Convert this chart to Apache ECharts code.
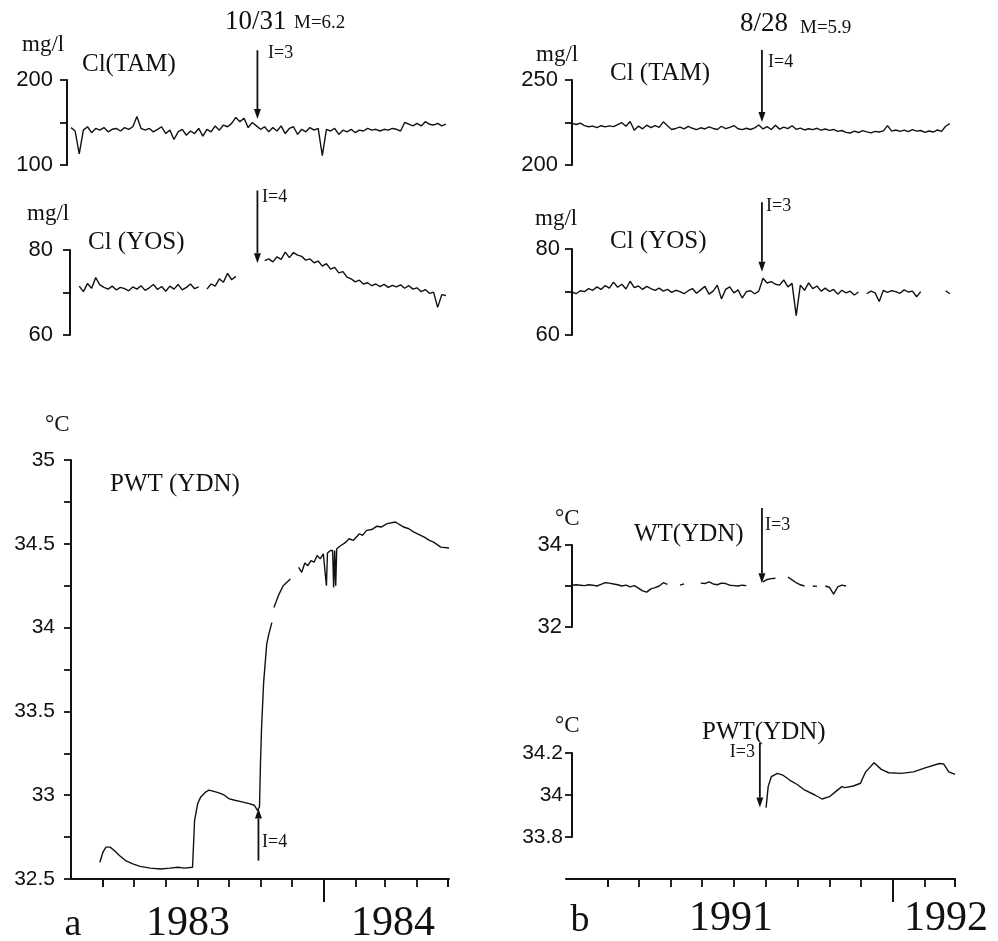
<!DOCTYPE html>
<html><head><meta charset="utf-8">
<script src="https://cdn.jsdelivr.net/npm/echarts@6/dist/echarts.min.js"></script>
<style>html,body{margin:0;padding:0;background:#fff}#c{width:998px;height:941px}</style>
</head><body><div id="c"></div>
<script>
const DAY = 86400000;
const STEP = 4; // sampling step of the digitised records, days
function ts(s){const p=s.split('-').map(Number);return new Date(p[0],p[1]-1,p[2]).getTime();}

// ---- axis ranges and ticks ----
const rangeA = ['1983-05-01','1984-05-02'];
const rangeB = ['1991-02-26','1992-03-01'];
const rangeBaxis = ['1991-02-20','1992-03-01'];
const monthTicksA = ['1983-06-01','1983-07-01','1983-08-01','1983-09-01','1983-10-01','1983-11-01','1983-12-01','1984-01-01','1984-02-01','1984-03-01','1984-04-01','1984-05-01'];
const yearTickA = ['1984-01-01'];
const monthTicksB = ['1991-04-01','1991-05-01','1991-06-01','1991-07-01','1991-08-01','1991-09-01','1991-10-01','1991-11-01','1991-12-01','1992-01-01','1992-02-01','1992-03-01'];
const yearTickB = ['1992-01-01'];
const yearLabelsA = ['1983','1984'];
const yearLabelsB = ['1991','1992'];

// y tick labels
const tamA_labels = [100,200];
const yosA_labels = [60,80];
const pwtA_labels = [32.5,33,33.5,34,34.5,35];
const tamB_labels = [200,250];
const yosB_labels = [60,80];
const wtB_labels = [32,34];
const pwtB_labels = [33.8,34,34.2];

// ---- (a) 1983-84 records, sampled every STEP days from start ----
const tamA_start = '1983-05-01';
const tamA = [144,140,113,141,145,138,143,141,144,139,
  142,143,140,144,142,145,157,143,141,143,
  139,142,145,137,141,130,139,142,135,140,
  137,143,134,142,139,146,141,147,145,149,
  156,151,155,144,150,146,142,145,139,144,
  140,146,137,143,145,136,142,139,144,141,
  143,111,142,140,143,136,141,139,142,138,
  141,140,143,141,142,140,142,141,143,142,
  140,150,148,146,149,146,151,148,147,149,
  146,148];
const yosA_start = '1983-05-01';
const yosA = [null,null,
  71.5,70.2,72.1,71,73.5,71.8,71.2,70.8,71.5,70.6,71.2,70.9,70.4,71.3,70.8,71.6,70.5,71.1,71.9,70.7,71.4,
  70.3,71.5,70.8,71.9,70.6,71.2,72,70.9,71.3,
  null,
  70.8,72,71.5,73.2,72.4,74.5,73,73.8,
  null,null,null,null,null,null,
  77.5,77.9,77.2,78.4,77.8,79.5,78.2,79.4,78.8,78.5,77.6,77.9,77,77.4,76.2,76.8,75.5,75.9,74.6,74.9,73.6,
  73.2,72.5,72.9,72,72.3,71.6,72,71.4,71.9,71.2,71.7,71.3,71.8,71,71.6,70.8,71.1,70.2,70.7,69.8,70.1,66.5,69.5,69.3];
const pwtA = [
 ['1983-05-29',32.60],['1983-06-01',32.66],['1983-06-04',32.69],['1983-06-08',32.69],['1983-06-12',32.67],
 ['1983-06-17',32.64],['1983-06-23',32.61],['1983-06-30',32.59],['1983-07-07',32.575],['1983-07-17',32.565],
 ['1983-07-27',32.56],['1983-08-05',32.565],['1983-08-13',32.57],['1983-08-19',32.565],['1983-08-27',32.57],
 ['1983-08-28',32.58],['1983-08-29',32.85],['1983-09-01',32.95],['1983-09-04',32.99],['1983-09-09',33.02],
 ['1983-09-12',33.03],['1983-09-21',33.015],['1983-09-27',33.0],['1983-10-01',32.98],['1983-10-07',32.97],
 ['1983-10-14',32.96],['1983-10-21',32.95],['1983-10-26',32.94],['1983-10-29',32.91],['1983-10-31',32.93],
 ['1983-11-01',33.2],['1983-11-02',33.4],['1983-11-04',33.67],['1983-11-07',33.9],['1983-11-09',33.96],
 ['1983-11-12',34.03],['1983-11-13',null],['1983-11-14',34.12],['1983-11-19',34.2],['1983-11-23',34.25],
 ['1983-11-30',34.29],['1983-12-03',null],['1983-12-08',34.36],['1983-12-11',34.33],['1983-12-14',34.385],
 ['1983-12-17',34.37],['1983-12-20',34.40],['1983-12-23',34.39],['1983-12-26',34.43],['1983-12-29',34.41],
 ['1984-01-01',34.44],['1984-01-04',34.25],['1984-01-05',34.445],['1984-01-08',34.46],['1984-01-10',34.46],
 ['1984-01-11',34.24],['1984-01-12',34.46],['1984-01-13',34.25],['1984-01-14',34.47],['1984-01-18',34.49],
 ['1984-01-22',34.505],['1984-01-26',34.53],['1984-01-30',34.52],['1984-02-05',34.56],['1984-02-08',34.55],
 ['1984-02-12',34.58],['1984-02-17',34.585],['1984-02-22',34.605],['1984-02-26',34.60],['1984-03-03',34.62],
 ['1984-03-11',34.63],['1984-03-19',34.60],['1984-03-24',34.59],['1984-03-29',34.57],['1984-04-03',34.555],
 ['1984-04-08',34.54],['1984-04-13',34.52],['1984-04-17',34.51],['1984-04-24',34.48],['1984-05-02',34.475]];

// ---- (b) 1991-92 records ----
const tamB_start = '1991-02-26';
const tamB = [224.5,223.8,224.6,223.2,222.5,222.9,222,223.1,
  222.4,223,222.6,223.8,224.9,222.8,225.6,220.4,
  222.9,221.3,223.4,222,223.2,222.1,225.4,223.1,220.9,
  221.5,222.3,221.2,222.7,221.6,220.8,221.9,221.2,222.4,221.5,220.9,222.8,221.4,222.1,223.2,221.3,
  220.8,221.6,220.9,221.8,223.5,221.2,
  222.6,220.9,223.4,221.1,222.3,221.4,223.1,221,221.7,220.6,221.3,220.8,221.6,220.5,221.2,220.4,220.9,
  219.8,220.3,219.2,218.8,219.9,219.1,220.2,219.5,218.9,219.8,219.4,220.1,
  223.2,219.9,220.6,219.8,220.5,219.6,220.8,219.9,220.3,219.2,220,219.4,
  220.6,219.8,222.8,224.3];
const yosB_start = '1991-02-26';
const yosB = [70,69.6,70.3,70.1,70.8,70.4,71.2,70.6,
  71.5,70.9,72.3,71.1,71.8,70.7,72.5,71,71.4,70.6,71.3,70.8,
  70.4,70.9,70.2,70.6,69.9,70.4,70.1,69.6,70.3,70.8,69.7,70.5,71.3,69.5,70.2,71.6,
  68.4,70.6,71.2,69.8,70.5,68.6,70.1,70.3,69.6,70.2,
  73.2,72.1,72.4,71.8,71.6,72.8,71.2,72,64.5,71.6,70.4,72.1,70.8,71.4,70.2,70.9,70.1,70.6,69.5,70.4,69.8,70.2,69.3,70,
  null,
  69.6,70.2,69.8,67.8,70.4,69.9,70.3,70.1,69.7,70.5,70,70.2,68.9,70.1,
  null,null,null,null,null,
  70.3,69.6];
const wtB_start = '1991-02-26';
const wtB = [33.02,33.03,33.02,33.01,33.03,33.02,33.0,33.04,33.08,33.07,33.05,33.03,33.0,33.02,32.98,33.01,32.95,32.88,32.85,32.93,32.96,33.0,33.08,33.04,
  null,null,33.02,33.05,null,null,null,
  33.07,33.06,33.1,33.05,33.03,33.07,33.06,33.02,33.01,33.0,33.02,33.01,
  null,null,null,
  33.1,33.16,33.18,33.19,null,null,
  33.22,33.15,33.08,33.03,33.0,null,33.0,32.99,null,
  33.0,32.97,32.8,32.98,33.02,33.0];
const pwtB = [
 ['1991-09-01',33.94],['1991-09-02',33.99],['1991-09-03',34.04],['1991-09-06',34.087],['1991-09-12',34.103],
 ['1991-09-17',34.095],['1991-09-24',34.07],['1991-10-01',34.05],['1991-10-08',34.024],['1991-10-18',34.0],
 ['1991-10-25',33.981],['1991-11-01',33.992],['1991-11-07',34.016],['1991-11-13',34.04],['1991-11-16',34.035],
 ['1991-11-24',34.043],['1991-12-01',34.056],['1991-12-03',34.08],['1991-12-06',34.11],['1991-12-14',34.154],
 ['1991-12-21',34.122],['1991-12-28',34.106],['1992-01-09',34.103],['1992-01-21',34.11],['1992-02-02',34.13],
 ['1992-02-15',34.15],['1992-02-19',34.148],['1992-02-24',34.11],['1992-03-01',34.098]];

// ---- event arrows: [date, from value, to value] ----
const arrowTamA = ['1983-10-29', 235, 154];
const arrowYosA = ['1983-10-29', 94, 76.9];
const arrowPwtA = ['1983-10-30', 32.61, 32.92];
const arrowTamB = ['1991-08-28', 267.6, 225.3];
const arrowYosB = ['1991-08-28', 90.9, 74.7];
const arrowWtB  = ['1991-08-28', 34.9, 33.07];
const arrowPwtB = ['1991-08-26', 34.248, 33.94];

// ---------------------------------------------------------
const INK = '#111';
const SERIF = 'Liberation Serif';
const SANS = 'Liberation Sans';
const reg = (start, vals) => vals.map((v,i)=>[ts(start)+i*STEP*DAY, v]);
const pairs = arr => arr.map(p=>[ts(p[0]), p[1]]);

const grids = [
  {left:71,  top:80,  width:378, height:85},   // 0 Cl TAM a
  {left:71,  top:250, width:378, height:85},   // 1 Cl YOS a
  {left:71,  top:460, width:378, height:419},  // 2 PWT a
  {left:572, top:80,  width:383, height:85},   // 3 Cl TAM b
  {left:572, top:249, width:383, height:86},   // 4 Cl YOS b
  {left:572, top:545, width:383, height:82},   // 5 WT b
  {left:572, top:753, width:383, height:84},   // 6 PWT b
  {left:566, top:860, width:389, height:19}    // 7 time axis b
].map(g=>Object.assign({containLabel:false, outerBoundsMode:'none'}, g));

function hiddenX(gi, r){return {gridIndex:gi, type:'time', min:ts(r[0]), max:ts(r[1]), show:false};}
function shownX(gi, r, ticks, len, showLine){
  return {gridIndex:gi, type:'time', min:ts(r[0]), max:ts(r[1]), position:'bottom',
    axisLine:{show:showLine, onZero:false, lineStyle:{color:INK, width:2}},
    axisTick:{show:true, inside:false, customValues:ticks.map(ts), length:len, lineStyle:{color:INK, width:1.8}},
    axisLabel:{show:false}, splitLine:{show:false}};
}
function yAx(gi, min, max, interval, labels, margin, fontSize, offset){
  return {gridIndex:gi, type:'value', min, max, interval, offset:offset||0, position:'left',
    axisLine:{show:true, onZero:false, lineStyle:{color:INK, width:2}},
    axisTick:{show:true, inside:false, length:7, lineStyle:{color:INK, width:1.8}},
    splitLine:{show:false},
    axisLabel:{show:true, margin, color:INK, fontFamily:SANS, fontSize,
      showMinLabel:true, showMaxLabel:true,
      formatter: v => labels.some(l=>Math.abs(l-v)<1e-6) ? String(+(+v).toFixed(2)) : ''}};
}

const xAxes = [
  hiddenX(0, rangeA), hiddenX(1, rangeA),
  shownX(2, rangeA, monthTicksA, 8, true),
  hiddenX(3, rangeB), hiddenX(4, rangeB), hiddenX(5, rangeB), hiddenX(6, rangeB),
  shownX(7, rangeBaxis, monthTicksB, 8, true),
  shownX(2, rangeA, yearTickA, 23, false),
  shownX(7, rangeBaxis, yearTickB, 23, false)
];
const yAxes = [
  yAx(0, 100, 200, 50, tamA_labels, 14, 22, 4),
  yAx(1, 60, 80, 10, yosA_labels, 17, 22, 1),
  yAx(2, 32.5, 35, 0.25, pwtA_labels, 16, 21, 0),
  yAx(3, 200, 250, 25, tamB_labels, 14, 22, 0),
  yAx(4, 60, 80, 10, yosB_labels, 12, 22, 0),
  yAx(5, 32, 34, 1, wtB_labels, 10, 22, 0),
  yAx(6, 33.8, 34.2, 0.2, pwtB_labels, 9, 21, 0),
  {gridIndex:7, type:'value', show:false, min:0, max:1}
];

function line(gi, data){
  return {type:'line', xAxisIndex:gi, yAxisIndex:gi, data, symbol:'none', showSymbol:false,
    connectNulls:false, silent:true, animation:false, clip:true,
    lineStyle:{color:INK, width:1.4}};
}
function arrow(gi, a){
  return {type:'custom', xAxisIndex:gi, yAxisIndex:gi, clip:false, silent:true, animation:false,
    data:[[ts(a[0]), a[1], a[2]]],
    renderItem:(params, api)=>{
      const p0 = api.coord([api.value(0), api.value(1)]);
      const p1 = api.coord([api.value(0), api.value(2)]);
      const dir = p1[1] > p0[1] ? 1 : -1;
      const h = 10, w = 3.5;
      return {type:'group', children:[
        {type:'line', shape:{x1:p0[0], y1:p0[1], x2:p1[0], y2:p1[1]-dir*h}, style:{stroke:INK, lineWidth:1.8}},
        {type:'polygon', shape:{points:[[p1[0],p1[1]],[p1[0]-w,p1[1]-dir*h],[p1[0]+w,p1[1]-dir*h]]}, style:{fill:INK}}
      ]};
    }};
}

function T(text, x, y, size, align, family){
  return {type:'text', left:undefined, x, y, silent:true,
    style:{text, fill:INK, font:`${size}px "${family||SERIF}"`, align:align||'left', verticalAlign:'middle'}};
}

const option = {
  backgroundColor:'#fff',
  animation:false,
  grid:grids,
  xAxis:xAxes,
  yAxis:yAxes,
  series:[
    line(0, reg(tamA_start, tamA)),
    line(1, reg(yosA_start, yosA)),
    line(2, pairs(pwtA)),
    line(3, reg(tamB_start, tamB)),
    line(4, reg(yosB_start, yosB)),
    line(5, reg(wtB_start, wtB)),
    line(6, pairs(pwtB)),
    arrow(0, arrowTamA), arrow(1, arrowYosA), arrow(2, arrowPwtA),
    arrow(3, arrowTamB), arrow(4, arrowYosB), arrow(5, arrowWtB), arrow(6, arrowPwtB)
  ],
  graphic:[
    T('10/31', 225, 22, 27), T('M=6.2', 294, 23, 19), T('I=3', 268, 53, 18),
    T('mg/l', 22, 45, 23), T('Cl(TAM)', 82, 64, 25),
    T('mg/l', 27, 214, 23), T('Cl (YOS)', 88, 242, 25), T('I=4', 262, 197, 18),
    T('°C', 45, 425, 23), T('PWT (YDN)', 110, 484, 25), T('I=4', 262, 842, 18),
    T('a', 73, 925, 38, 'center'),
    T(yearLabelsA[0], 188, 924, 42, 'center'), T(yearLabelsA[1], 393, 924, 42, 'center'),
    T('8/28', 740, 24, 27), T('M=5.9', 800, 28, 19), T('I=4', 768, 62, 18),
    T('mg/l', 536, 55, 23), T('Cl (TAM)', 610, 73, 25),
    T('I=3', 766, 206, 18), T('mg/l', 535, 219, 23), T('Cl (YOS)', 610, 241, 25),
    T('°C', 555, 519, 23), T('WT(YDN)', 634, 534, 25), T('I=3', 765, 525, 18),
    T('°C', 555, 726, 23), T('PWT(YDN)', 702, 732, 25), T('I=3', 755, 752, 18, 'right'),
    T('b', 580, 921, 38, 'center'),
    T(yearLabelsB[0], 731, 919, 42, 'center'), T(yearLabelsB[1], 946, 919, 42, 'center')
  ]
};
const chart = echarts.init(document.getElementById('c'), null, {renderer:'canvas'});
chart.setOption(option);
</script></body></html>
